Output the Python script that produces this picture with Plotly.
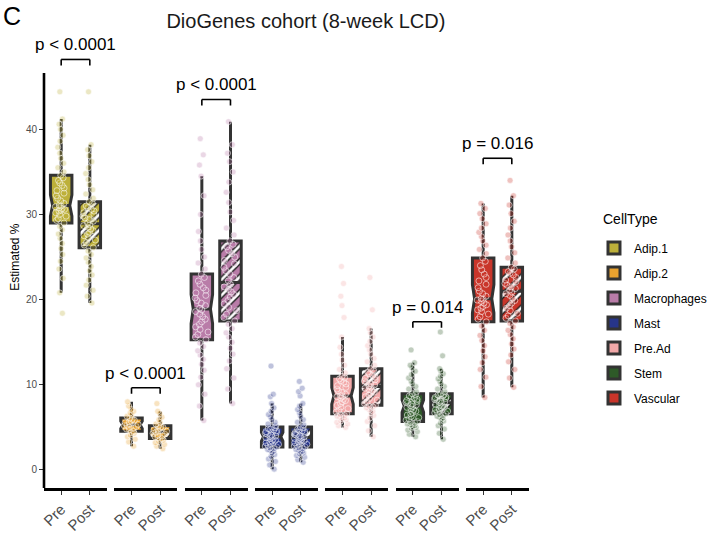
import numpy as np
import plotly.graph_objects as go

# ---------------- data ----------------
cell_types = ["Adip.1", "Adip.2", "Macrophages", "Mast", "Pre.Ad", "Stem", "Vascular"]
timepoints = ["Pre", "Post"]
cell_colors = ["#BDB03A", "#E9A22F", "#B97CA8", "#27358A", "#F2A8A8", "#2E5A28", "#C9352A"]

adip1_pre = [18.4, 20.8, 22.5, 23.6, 24.5, 25.3, 26.0, 26.6, 27.2, 27.7, 28.2, 28.6, 29.0, 29.3, 29.5,
             29.8, 30.0, 30.2, 30.4, 30.5, 30.6, 30.7, 30.8, 30.9, 31.0, 31.1, 31.3, 31.6, 31.9, 32.2,
             32.5, 32.8, 33.1, 33.4, 33.7, 34.0, 34.3, 34.6, 35.0, 35.5, 36.0, 36.6, 37.2, 37.9, 38.6,
             39.3, 40.0, 40.6, 41.2, 44.4]
adip1_post = [19.6, 20.4, 21.1, 21.7, 22.3, 22.9, 23.4, 23.9, 24.4, 24.9, 25.3, 25.7, 26.1, 26.4, 26.7,
              27.0, 27.3, 27.5, 27.7, 27.9, 28.1, 28.3, 28.5, 28.7, 28.8, 29.0, 29.2, 29.4, 29.6, 29.8,
              30.0, 30.2, 30.4, 30.6, 30.8, 31.0, 31.3, 31.5, 31.9, 32.4, 32.9, 33.5, 34.1, 34.8, 35.5,
              36.2, 36.9, 37.6, 38.2, 44.4]
adip2_pre = [2.8, 3.3, 3.6, 3.9, 4.1, 4.3, 4.4, 4.55, 4.7, 4.8, 4.9, 5.0, 5.1, 5.2, 5.25, 5.35, 5.45,
             5.55, 5.65, 5.75, 5.85, 5.95, 6.1, 6.3, 6.5, 6.7, 6.9, 7.1, 7.5, 8.0]
adip2_post = [2.5, 2.8, 3.0, 3.2, 3.35, 3.5, 3.6, 3.7, 3.8, 3.9, 4.0, 4.1, 4.2, 4.3, 4.45, 4.55, 4.6,
              4.7, 4.8, 4.9, 5.0, 5.05, 5.2, 5.4, 5.6, 5.9, 6.2, 6.6, 6.9, 7.8]
macro_pre = [5.8, 7.5, 8.9, 10.0, 10.9, 11.7, 12.4, 13.0, 13.5, 14.0, 14.5, 14.9, 15.3, 15.6, 15.9,
             16.2, 16.5, 16.8, 17.1, 17.4, 17.7, 18.0, 18.3, 18.6, 18.8, 19.0, 19.3, 19.6, 19.9, 20.2,
             20.5, 20.8, 21.1, 21.4, 21.8, 22.2, 22.6, 23.0, 23.6, 24.3, 25.0, 25.9, 26.9, 28.0, 30.0,
             32.2, 34.5, 35.8, 37.0, 38.9]
macro_post = [7.8, 9.5, 10.8, 11.9, 12.8, 13.6, 14.3, 15.0, 15.6, 16.1, 16.6, 17.1, 17.5, 17.9, 18.3,
              18.7, 19.1, 19.5, 19.9, 20.3, 20.6, 20.9, 21.2, 21.5, 21.8, 22.2, 22.6, 23.0, 23.4, 23.8,
              24.2, 24.6, 25.0, 25.4, 25.8, 26.2, 26.5, 26.9, 27.6, 28.4, 29.3, 30.3, 31.4, 32.6, 33.8,
              35.0, 36.2, 37.2, 38.2, 40.9]
mast_pre = [0.1, 0.6, 1.0, 1.3, 1.6, 1.8, 2.0, 2.2, 2.3, 2.4, 2.5, 2.6, 2.7, 2.8, 2.9, 3.0, 3.1, 3.2,
            3.3, 3.4, 3.5, 3.6, 3.7, 3.8, 3.85, 3.95, 4.0, 4.1, 4.2, 4.3, 4.4, 4.5, 4.6, 4.7, 4.8, 4.9,
            4.95, 5.05, 5.2, 5.4, 5.6, 5.9, 6.2, 6.5, 6.9, 7.3, 7.8, 8.6, 8.9, 12.2]
mast_post = [0.9, 1.2, 1.5, 1.7, 1.9, 2.0, 2.1, 2.2, 2.3, 2.4, 2.5, 2.6, 2.7, 2.8, 2.9, 3.0, 3.1, 3.2,
             3.3, 3.4, 3.45, 3.55, 3.6, 3.7, 3.75, 3.85, 3.9, 4.0, 4.1, 4.2, 4.3, 4.4, 4.5, 4.6, 4.7,
             4.8, 4.95, 5.05, 5.3, 5.6, 5.9, 6.3, 6.7, 7.1, 7.5, 7.8, 8.7, 9.2, 9.6, 10.4]
preadp_pre = [5.0, 5.2, 5.4, 5.6, 5.75, 5.9, 6.0, 6.1, 6.2, 6.3, 6.4, 6.5, 6.6, 6.8, 7.0, 7.2, 7.4,
              7.6, 7.8, 8.0, 8.15, 8.3, 8.45, 8.6, 8.65, 8.75, 8.9, 9.1, 9.3, 9.5, 9.7, 9.9, 10.1, 10.3,
              10.5, 10.7, 10.85, 11.0, 11.4, 11.8, 12.3, 12.9, 13.6, 14.4, 15.6, 17.9, 19.3, 20.4, 21.9,
              23.9]
preadp_post = [3.9, 4.6, 5.2, 5.7, 6.1, 6.4, 6.7, 6.9, 7.1, 7.3, 7.4, 7.5, 7.6, 7.8, 8.0, 8.2, 8.4,
               8.6, 8.8, 9.0, 9.15, 9.3, 9.45, 9.6, 9.75, 9.85, 10.0, 10.15, 10.3, 10.45, 10.6, 10.75,
               10.9, 11.1, 11.3, 11.5, 11.7, 11.9, 12.3, 12.7, 13.1, 13.6, 14.1, 14.6, 15.1, 15.6, 16.1,
               16.6, 18.8, 22.6]
stem_pre = [3.9, 4.2, 4.5, 4.7, 4.9, 5.0, 5.1, 5.2, 5.3, 5.4, 5.5, 5.6, 5.7, 5.85, 6.0, 6.15, 6.3,
            6.45, 6.6, 6.75, 6.9, 7.05, 7.2, 7.35, 7.45, 7.55, 7.65, 7.75, 7.85, 7.95, 8.05, 8.15, 8.3,
            8.45, 8.6, 8.7, 8.85, 8.95, 9.2, 9.5, 9.8, 10.1, 10.4, 10.8, 11.2, 11.6, 12.0, 12.3, 12.6,
            14.1]
stem_post = [3.6, 4.3, 4.8, 5.2, 5.5, 5.75, 5.95, 6.1, 6.2, 6.3, 6.4, 6.5, 6.6, 6.7, 6.8, 6.9, 7.0,
             7.1, 7.2, 7.3, 7.4, 7.5, 7.6, 7.7, 7.85, 7.95, 8.0, 8.1, 8.2, 8.3, 8.4, 8.5, 8.6, 8.7, 8.75,
             8.8, 8.85, 8.95, 9.2, 9.5, 9.8, 10.1, 10.4, 10.7, 11.0, 11.3, 11.6, 11.9, 13.4, 16.2]
vasc_pre = [8.5, 9.8, 10.9, 11.8, 12.6, 13.3, 14.0, 14.6, 15.2, 15.8, 16.4, 16.9, 17.4, 17.7, 18.0,
            18.3, 18.6, 18.8, 19.0, 19.2, 19.4, 19.6, 19.8, 19.95, 20.05, 20.15, 20.4, 20.7, 21.0, 21.4,
            21.8, 22.2, 22.6, 23.0, 23.5, 24.0, 24.5, 24.9, 25.4, 25.9, 26.4, 26.9, 27.4, 27.9, 28.4,
            28.9, 29.5, 30.1, 30.7, 31.3]
vasc_post = [9.7, 10.8, 11.8, 12.7, 13.5, 14.2, 14.8, 15.4, 15.9, 16.4, 16.8, 17.2, 17.5, 17.8, 18.1,
             18.4, 18.7, 19.0, 19.3, 19.6, 19.9, 20.2, 20.5, 20.7, 20.9, 21.1, 21.3, 21.5, 21.7, 21.9,
             22.1, 22.3, 22.6, 22.9, 23.1, 23.3, 23.6, 23.8, 24.3, 24.9, 25.5, 26.2, 26.9, 27.6, 28.4,
             29.2, 30.1, 31.1, 32.2, 34.0]

values = {
    ("Adip.1", "Pre"): adip1_pre, ("Adip.1", "Post"): adip1_post,
    ("Adip.2", "Pre"): adip2_pre, ("Adip.2", "Post"): adip2_post,
    ("Macrophages", "Pre"): macro_pre, ("Macrophages", "Post"): macro_post,
    ("Mast", "Pre"): mast_pre, ("Mast", "Post"): mast_post,
    ("Pre.Ad", "Pre"): preadp_pre, ("Pre.Ad", "Post"): preadp_post,
    ("Stem", "Pre"): stem_pre, ("Stem", "Post"): stem_post,
    ("Vascular", "Pre"): vasc_pre, ("Vascular", "Post"): vasc_post,
}

p_labels = ["p < 0.0001", "p < 0.0001", "p < 0.0001", None, None, "p = 0.014", "p = 0.016"]
bracket_y = [48.2, 9.65, 43.5, None, None, 17.4, 36.6]
y_ticks = [0, 10, 20, 30, 40]

# ---------------- figure ----------------
FONT = "Liberation Sans, Arial, Helvetica, sans-serif"
BOX_W = 0.75
LINE_DARK = "#333333"

def rgba(hexc, a):
    h = hexc.lstrip("#")
    r, g, b = int(h[0:2], 16), int(h[2:4], 16), int(h[4:6], 16)
    return f"rgba({r},{g},{b},{a})"

all_vals = np.concatenate([np.array(v) for v in values.values()])
vmin, vmax = all_vals.min(), all_vals.max()
y_lo = vmin - 0.05 * (vmax - vmin)
y_hi = vmax + 0.05 * (vmax - vmin)
y_top = y_lo + (y_hi - y_lo) * 1.0505  # extra head-room for brackets

n_panels = len(cell_types)
gap = 0.0151
pw = (1 - gap * (n_panels - 1)) / n_panels

fig = go.Figure()
layout_axes = {}
shapes = []
annotations = []

for i, (ct, col) in enumerate(zip(cell_types, cell_colors)):
    xa = "x" if i == 0 else f"x{i + 1}"
    xkey = "xaxis" if i == 0 else f"xaxis{i + 1}"
    d0 = i * (pw + gap)
    layout_axes[xkey] = dict(
        domain=[d0, d0 + pw], anchor="y", type="category",
        categoryorder="array", categoryarray=timepoints, range=[-0.6, 1.6],
        showline=True, linecolor="black", linewidth=2.6, ticks="outside",
        ticklen=4, tickwidth=1.4, tickcolor=LINE_DARK, tickangle=-45,
        tickfont=dict(size=15, color="#4D4D4D", family=FONT), automargin=False,
        showgrid=False, zeroline=False, fixedrange=True,
    )

    # hatched fill for the Post box (drawn beneath the box outline)
    post = np.array(values[(ct, "Post")])
    q1, q3 = np.percentile(post, [25, 75])
    fig.add_trace(go.Bar(
        x=["Post"], y=[q3 - q1], base=[q1], width=BOX_W, xaxis=xa, yaxis="y",
        marker=dict(color=col, line=dict(width=0),
                    pattern=dict(shape="/", bgcolor=col, fgcolor="#1a1a1a",
                                 size=11, solidity=0.5, fillmode="replace")),
        showlegend=False, hoverinfo="skip"))
    fig.add_trace(go.Bar(
        x=["Post"], y=[q3 - q1], base=[q1], width=BOX_W, xaxis=xa, yaxis="y",
        marker=dict(color="rgba(0,0,0,0)", line=dict(width=0),
                    pattern=dict(shape="/", bgcolor="rgba(0,0,0,0)", fgcolor="white",
                                 size=11, solidity=0.25, fillmode="replace")),
        showlegend=False, hoverinfo="skip"))

    for tp in timepoints:
        vals = values[(ct, tp)]
        fig.add_trace(go.Box(
            x=[tp] * len(vals), y=vals, name=ct, legendgroup=ct,
            showlegend=(tp == "Pre"), xaxis=xa, yaxis="y",
            width=BOX_W, notched=(tp == "Pre"), notchwidth=0.1,
            fillcolor=col if tp == "Pre" else "rgba(0,0,0,0)",
            line=dict(color=LINE_DARK, width=3), whiskerwidth=0,
            boxpoints="all", jitter=0.7, pointpos=0,
            marker=dict(size=6, color=rgba(col, 0.3),
                        line=dict(color="rgba(255,255,255,0.7)", width=0.8)),
            hoverinfo="y"))

    if p_labels[i] is not None:
        yb = bracket_y[i]
        leg = 0.7
        for (x0, y0, x1, y1) in [(0, yb - leg, 0, yb), (0, yb, 1, yb), (1, yb, 1, yb - leg)]:
            shapes.append(dict(type="line", xref=xa, yref="y", x0=x0, y0=y0, x1=x1, y1=y1,
                               line=dict(color="black", width=1.6)))
        annotations.append(dict(text=p_labels[i], xref=xa, yref="y", x=0.5, y=yb,
                                xanchor="center", yanchor="bottom", yshift=3, showarrow=False,
                                font=dict(size=17, color="black", family=FONT)))

# y-axis line spanning only the data panel range
shapes.append(dict(type="line", xref="x domain", yref="y", x0=0, x1=0, y0=y_lo, y1=y_hi,
                   line=dict(color="black", width=2.6)))

annotations.append(dict(text="Estimated %", xref="paper", yref="paper", x=-0.06, y=0.53,
                        textangle=-90, showarrow=False, xanchor="center", yanchor="middle",
                        font=dict(size=12, color="black", family=FONT)))
annotations.append(dict(text="C", xref="paper", yref="paper", x=-0.089, y=1.0826,
                        xanchor="left", yanchor="middle", showarrow=False,
                        font=dict(size=25, color="black", family=FONT)))
annotations.append(dict(text="CellType", xref="paper", yref="paper", x=1.148, y=0.617,
                        xanchor="left", yanchor="middle", showarrow=False,
                        font=dict(size=14, color="black", family=FONT)))

fig.update_layout(
    width=712, height=533,
    margin=dict(l=44, r=183, t=52, b=45, autoexpand=False),
    paper_bgcolor="white", plot_bgcolor="white",
    font=dict(family=FONT, color="black"),
    title=dict(text="DioGenes cohort (8-week LCD)", xref="paper", x=0.54, xanchor="center",
               yref="container", y=0.96, yanchor="middle", automargin=False,
               font=dict(size=20, color="#1a1a1a", family=FONT)),
    yaxis=dict(range=[y_lo, y_top], tickvals=y_ticks, ticks="outside", ticklen=4,
               tickwidth=1.4, tickcolor=LINE_DARK, showline=False, showgrid=False,
               zeroline=False, tickfont=dict(size=10, color="#4D4D4D", family=FONT),
               anchor="x", fixedrange=True, automargin=False),
    barmode="overlay", boxmode="overlay",
    legend=dict(x=1.134, xanchor="left", y=0.584, yanchor="top",
                font=dict(size=12, color="black", family=FONT),
                tracegroupgap=6, bgcolor="rgba(0,0,0,0)"),
    shapes=shapes, annotations=annotations,
)
fig.update_layout(**layout_axes)

fig.write_html("out.html", config={"displayModeBar": False},
               post_script="document.body.style.margin='0';document.body.style.padding='0';")
